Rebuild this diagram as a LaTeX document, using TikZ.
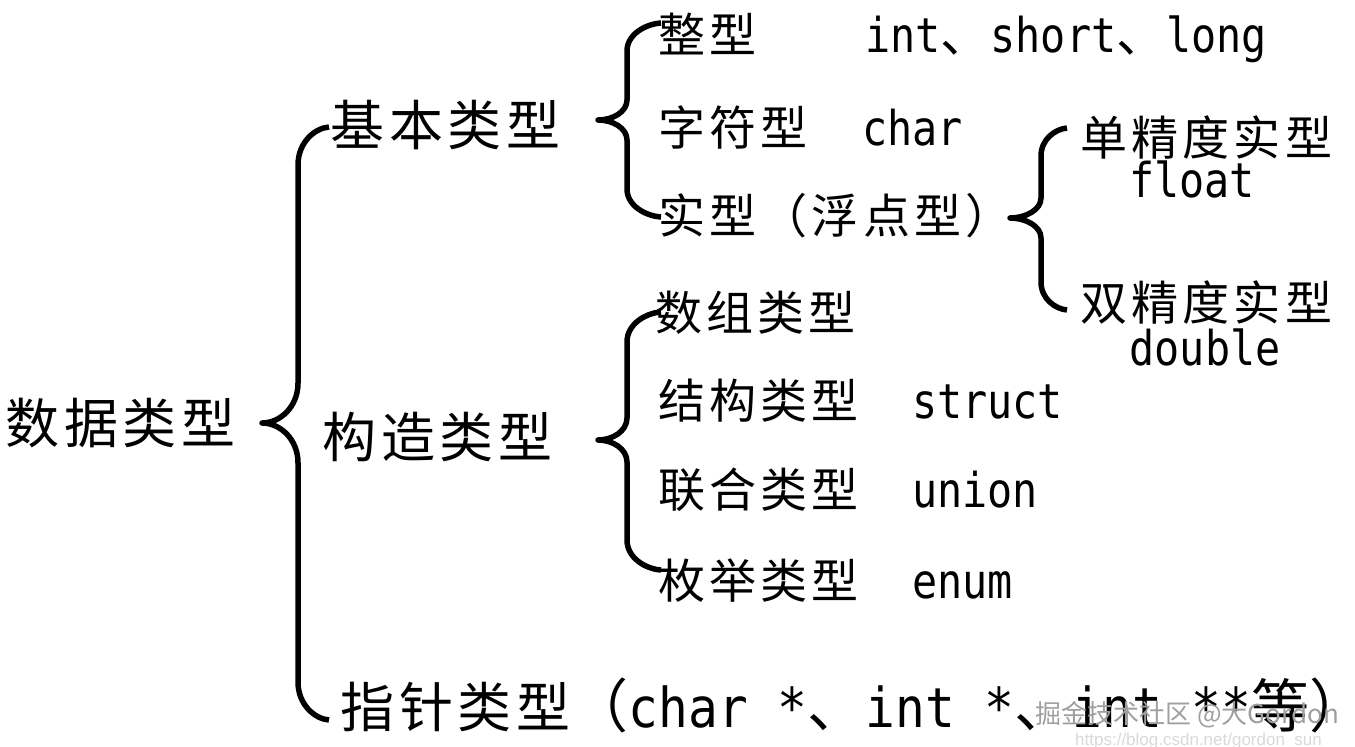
\documentclass[tikz,border=0pt]{standalone}
\usepackage{fontspec}
\newfontfamily\cjkf[LetterSpace=9]{Noto Sans CJK SC}
\newfontfamily\cjkw{Noto Sans CJK SC}
\newfontfamily\latf[FakeStretch=0.87]{DejaVu Sans Mono}
\newfontfamily\latfB[FakeStretch=0.9]{DejaVu Sans Mono}
\newfontfamily\urlf{Liberation Sans}
\tikzset{
  lvlone/.style={inner sep=0pt, anchor=base west, font=\cjkf\fontsize{54}{54}\selectfont},
  lvltwo/.style={inner sep=0pt, anchor=base west, font=\cjkf\fontsize{47}{47}\selectfont},
  latsmall/.style={inner sep=0pt, anchor=base west, font=\latf\fontsize{48}{48}\selectfont},
  latcenter/.style={inner sep=0pt, anchor=base, font=\latf\fontsize{48}{48}\selectfont},
  bracestyle/.style={line width=5.5pt, line cap=butt, line join=round},
  wmark/.style={inner sep=0pt, anchor=base west, text=gray!75, font=\cjkw\fontsize{26}{26}\selectfont},
  wurl/.style={inner sep=0pt, anchor=base west, text=gray!30, font=\urlf\fontsize{17}{17}\selectfont}
}
\newcommand\smallcomma{{\cjkw\fontsize{50}{50}\selectfont 、}}
\newcommand\bigL[1]{{\latfB\fontsize{55}{55}\selectfont #1}}
\newcommand\bigW[1]{{\cjkw\fontsize{58}{58}\selectfont #1}}
% #1 x of line, #2 x of hook ends, #3 y top, #4 x tip, #5 y tip, #6 y bottom, #7 tip span, #8 hook span
\newcommand\drawbracket[8]{%
  \draw[bracestyle] (#2,#3) .. controls (#2-0.45*#2+0.45*#1,#3+1) and (#1,#3+0.4*#8) .. (#1,#3+#8)
    -- (#1,#5-#7) .. controls (#1,#5-0.4*#7) and (0.5*#4+0.5*#1,#5) .. (#4,#5)
    .. controls (0.5*#4+0.5*#1,#5) and (#1,#5+0.4*#7) .. (#1,#5+#7)
    -- (#1,#6-#8) .. controls (#1,#6-0.4*#8) and (#2-0.45*#2+0.45*#1,#6-1) .. (#2,#6);}
\begin{document}
\begin{tikzpicture}[x=1pt,y=-1pt]
\useasboundingbox (0,0) rectangle (1355,747);
% level 0 / 1
\node[lvlone] (root) at (5,443) {数据类型};
\node[lvlone] (basic) at (330,145) {基本类型};
\node[lvlone] (constr) at (322,457) {构造类型};
\node[lvlone] (ptr) at (340,727) {指针类型\bigW{（}\bigL{char *}\bigW{、}\bigL{int *}\bigW{、}\bigL{int **}\bigW{等）}};
% basic children
\node[lvltwo] (int) at (658,52) {整型};
\node[latsmall] (intl) at (865,52) {int\smallcomma short\smallcomma long};
\node[lvltwo] (chr) at (658,145) {字符型};
\node[latsmall] (chrl) at (862,145) {char};
\node[lvltwo] (real) at (658,233) {实型（浮点型）};
% real children
\node[lvltwo] (single) at (1080,155) {单精度实型};
\node[latcenter] (singlel) at (1192,197) {float};
\node[lvltwo] (double) at (1080,320) {双精度实型};
\node[latcenter] (doublel) at (1205,365) {double};
% constructed children
\node[lvltwo] (arr) at (655,330) {数组类型};
\node[lvltwo] (struct) at (658,418) {结构类型};
\node[latsmall] (structl) at (912,418) {struct};
\node[lvltwo] (union) at (658,507) {联合类型};
\node[latsmall] (unionl) at (912,507) {union};
\node[lvltwo] (enum) at (658,598) {枚举类型};
\node[latsmall] (enuml) at (912,598) {enum};
% brackets
\drawbracket{298}{329}{127}{262}{423}{720}{40}{38}
\drawbracket{627}{661}{23}{598}{120}{217}{20}{28}
\drawbracket{627}{661}{312}{598}{440}{570}{22}{30}
\drawbracket{1041}{1067}{128}{1010}{218}{310}{20}{28}
% watermark
\node[wmark] (wm) at (1035,723) {掘金技术社区 @大Gordon};
\node[wurl] (wu) at (1075,745) {https://blog.csdn.net/gordon\_sun};
\end{tikzpicture}
\end{document}
